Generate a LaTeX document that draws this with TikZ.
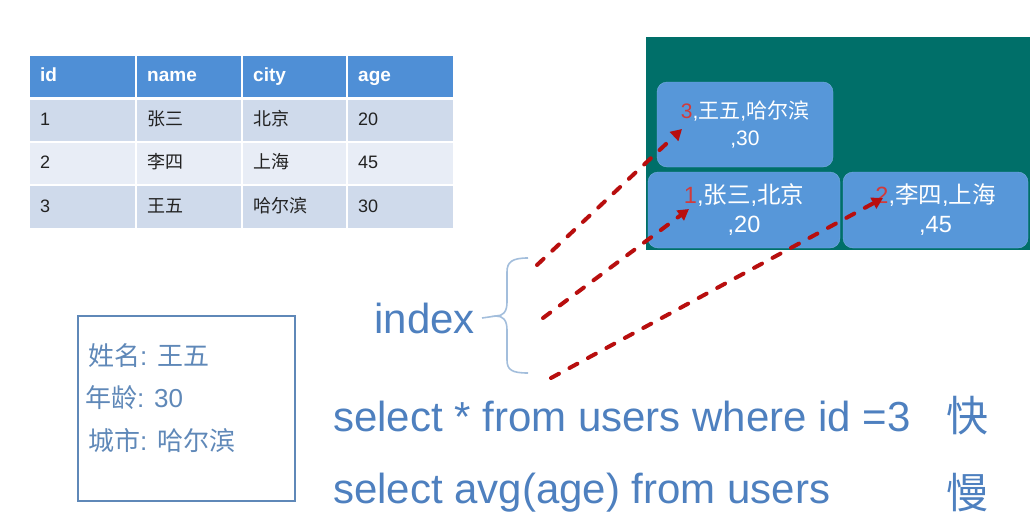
\documentclass[tikz,border=0pt]{standalone}
\usepackage{fontspec}
\setmainfont{Liberation Sans}
\newfontfamily\cjk{Noto Sans CJK SC}
\usetikzlibrary{arrows.meta}
\definecolor{hdr}{HTML}{4F8FD6}
\definecolor{rowa}{HTML}{CFDAEB}
\definecolor{rowb}{HTML}{E8EDF6}
\definecolor{tealbg}{HTML}{006F69}
\definecolor{boxblue}{HTML}{5797D9}
\definecolor{numred}{HTML}{D23A3A}
\definecolor{dred}{HTML}{B80E0E}
\definecolor{txtblue}{HTML}{4E80BF}
\definecolor{bracec}{HTML}{A3BEDC}
\definecolor{lbox}{HTML}{5F88B8}
\definecolor{celltxt}{HTML}{222222}
\tikzset{
  cell/.style={anchor=north west, inner xsep=10pt, inner ysep=0pt, text width=#1, align=left, minimum height=41pt, text height=14pt, text depth=4pt},
  hcell/.style={cell=#1, fill=hdr, text=white, font=\fontsize{19}{23}\selectfont\bfseries},
  acell/.style={cell=#1, fill=rowa, text=celltxt, font=\fontsize{18}{22}\selectfont},
  bcell/.style={cell=#1, fill=rowb, text=celltxt, font=\fontsize{18}{22}\selectfont},
  rbox/.style={fill=boxblue, draw=boxblue!80!white, rounded corners=10pt, text=white, align=center, font=\fontsize{21}{27}\selectfont, inner sep=0pt},
  rboxl/.style={rbox, font=\fontsize{23.5}{29}\selectfont},
  arr/.style={draw=dred, line width=4pt, line cap=round, dash pattern=on 9pt off 12pt, -{Triangle[length=11pt,width=12pt]}},
  bigtxt/.style={text=txtblue, font=\fontsize{42}{48}\selectfont, inner sep=0pt},
  infotxt/.style={text=lbox, font=\fontsize{26}{30}\selectfont, inner sep=0pt, anchor=west},
}
\begin{document}
\begin{tikzpicture}[x=1pt,y=-1pt]
\useasboundingbox (0,0) rectangle (1036,530);
% table
\node[hcell=85pt] (h1) at (30,56) {id};
\node[hcell=84pt] (h2) at (137,56) {name};
\node[hcell=83pt] (h3) at (243,56) {city};
\node[hcell=85pt] (h4) at (348,56) {age};
\node[acell=85pt] (c11) at (30,100) {1};
\node[acell=84pt] (c12) at (137,100) {\cjk 张三};
\node[acell=83pt] (c13) at (243,100) {\cjk 北京};
\node[acell=85pt] (c14) at (348,100) {20};
\node[bcell=85pt] (c21) at (30,143) {2};
\node[bcell=84pt] (c22) at (137,143) {\cjk 李四};
\node[bcell=83pt] (c23) at (243,143) {\cjk 上海};
\node[bcell=85pt] (c24) at (348,143) {45};
\node[acell=85pt, minimum height=42pt] (c31) at (30,186) {3};
\node[acell=84pt, minimum height=42pt] (c32) at (137,186) {\cjk 王五};
\node[acell=83pt, minimum height=42pt] (c33) at (243,186) {\cjk 哈尔滨};
\node[acell=85pt, minimum height=42pt] (c34) at (348,186) {30};
% teal area
\node[fill=tealbg, anchor=north west, minimum width=384pt, minimum height=213pt, inner sep=0pt] (bg) at (646,37) {};
\node[rbox, minimum width=176pt, minimum height=85pt] (b3) at (745,124.5) {\textcolor{numred}{3},{\cjk 王五},{\cjk 哈尔滨}\\,30};
\node[rboxl, minimum width=192pt, minimum height=76pt] (b1) at (744,210) {\textcolor{numred}{1},{\cjk 张三},{\cjk 北京}\\,20};
\node[rboxl, minimum width=185pt, minimum height=76pt] (b2) at (935.5,210) {\textcolor{numred}{2},{\cjk 李四},{\cjk 上海}\\,45};
% index and brace
\node[bigtxt, anchor=east] (idx) at (475,318) {index};
\coordinate (bt) at (496,316);
\coordinate (btop) at (528,258);
\coordinate (bbot) at (528,373);
\draw[bracec, line width=1.6pt] (btop) .. controls (512,258) and (507,262) .. (507,272) -- (507,302)
  .. controls (507,312) and (503,316) .. (bt) .. controls (503,316) and (507,320) .. (507,330)
  -- (507,360) .. controls (507,370) and (512,373) .. (bbot);
\draw[bracec, line width=1.6pt] ([xshift=7pt]idx.east) -- (bt);
% arrows
\coordinate (s1) at (537,265);
\coordinate (t1) at (682,129);
\coordinate (s2) at (543,318);
\coordinate (t2) at (689,209);
\coordinate (s3) at (551,378);
\coordinate (t3) at (883,198);
\draw[arr] (s1) -- (t1);
\draw[arr] (s2) -- (t2);
\draw[arr] (s3) -- (t3);
% record box
\node[draw=lbox, line width=2pt, anchor=north west, minimum width=217pt, minimum height=185pt, inner sep=0pt] (rec) at (77,315) {};
\node[infotxt] (r1) at (88,356) {{\cjk 姓名}: {\cjk 王五}};
\node[infotxt] (r2) at (85,398) {{\cjk 年龄}: 30};
\node[infotxt] (r3) at (88,441) {{\cjk 城市}: {\cjk 哈尔滨}};
% sql
\node[bigtxt, anchor=west] (q1) at (333,416) {select * from users where id =3};
\node[bigtxt, anchor=west, font=\fontsize{42}{48}\selectfont\cjk] (f1) at (946,416) {快};
\node[bigtxt, anchor=west] (q2) at (333,493) {select avg(age) from users};
\node[bigtxt, anchor=west, font=\fontsize{42}{48}\selectfont\cjk] (f2) at (946,493) {慢};
\end{tikzpicture}
\end{document}
